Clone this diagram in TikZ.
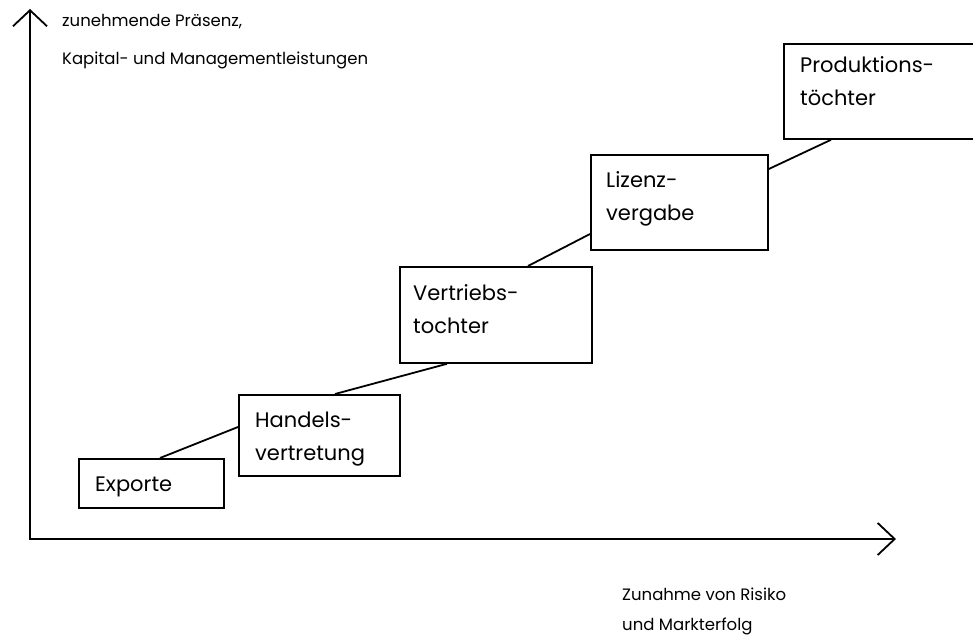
\documentclass[tikz,border=0pt]{standalone}
\usepackage{fontspec}
\setmainfont{Poppins}
\usetikzlibrary{arrows.meta, positioning}

\begin{document}
\begin{tikzpicture}[
          x=1pt, y=-1pt,
          stagebox/.style 2 args={draw, line width=1.8pt, minimum width=#1, minimum height=#2,
                                  inner sep=0pt, anchor=north west},
          stagetext/.style={anchor=base west, align=left, inner sep=0pt,
                            font=\fontsize{21}{33}\selectfont},
          axislabel/.style={anchor=base west, align=left, inner sep=0pt,
                            font=\fontsize{16.5}{38}\selectfont},
          link/.style={line width=1.8pt},
          axis/.style={line width=1.8pt,
                       {Straight Barb[length=16pt, width=34pt]}-{Straight Barb[length=17pt, width=32pt]}}
        ]
        \useasboundingbox (0,0) rectangle (973,636);
        \clip (0,0) rectangle (973,636);
        % axes
        \coordinate (ytip) at (30,9);
        \coordinate (origin) at (30,539);
        \coordinate (xtip) at (896,539);
        \draw[axis] (ytip) -- (origin) -- (xtip);
        % base anchor sits on the last line
        \node[axislabel] (ylab) at (62,65) {zunehmende Präsenz,\\Kapital- und Managementleistungen};
        \node[axislabel, font=\fontsize{16.5}{30}\selectfont] (xlab) at (622,630) {Zunahme von Risiko\\und Markterfolg};
        % stages
        \node[stagebox={145}{49}] (exp) at (78,458) {};
        \node[stagebox={161}{81}] (hv) at (238,394) {};
        \node[stagebox={192}{96}] (vt) at (399,266) {};
        \node[stagebox={177}{95}] (liz) at (590,154) {};
        \node[stagebox={210}{95}] (prod) at (783,43) {};
        \node[stagetext] (exptext) at ([shift={(17,33)}]exp.north west) {Exporte};
        \node[stagetext] (hvtext) at ([shift={(17,66)}]hv.north west) {Handels-\\vertretung};
        \node[stagetext] (vttext) at ([shift={(14,67)}]vt.north west) {Vertriebs-\\tochter};
        \node[stagetext] (liztext) at ([shift={(16,67)}]liz.north west) {Lizenz-\\vergabe};
        \node[stagetext] (prodtext) at ([shift={(17,63)}]prod.north west) {Produktions-\\töchter};
        % connectors
        \draw[link] ([shift={(82,0)}]exp.north west) -- ([shift={(0,33)}]hv.north west);
        \draw[link] ([shift={(97,0)}]hv.north west) -- ([shift={(48,0)}]vt.south west);
        \draw[link] ([shift={(129,0)}]vt.north west) -- ([shift={(0,80)}]liz.north west);
        \draw[link] ([shift={(0,15)}]liz.north east) -- ([shift={(48,0)}]prod.south west);
      \end{tikzpicture}
\end{document}
